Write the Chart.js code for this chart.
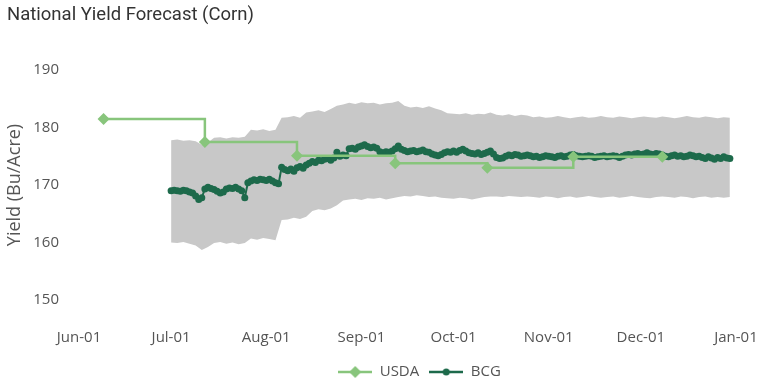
<!DOCTYPE html>
<html>
<head>
<meta charset="utf-8">
<script src="https://cdn.jsdelivr.net/npm/chart.js@4.4.0/dist/chart.umd.min.js"></script>
<style>
html, body { margin: 0; padding: 0; background: #fff; }
#wrap { width: 768px; height: 387px; }
</style>
</head>
<body>
<div id="wrap"><canvas id="yieldChart"></canvas></div>
<script>
const monthTicks = ['2023-06-01', '2023-07-01', '2023-08-01', '2023-09-01', '2023-10-01', '2023-11-01', '2023-12-01', '2024-01-01'];
const monthLabels = ['Jun-01', 'Jul-01', 'Aug-01', 'Sep-01', 'Oct-01', 'Nov-01', 'Dec-01', 'Jan-01'];
const yTicks = [150, 160, 170, 180, 190];

const usdaDates = ['2023-06-09', '2023-07-12', '2023-08-11', '2023-09-12', '2023-10-12', '2023-11-09', '2023-12-08'];
const usdaYield = [181.5, 177.5, 175.1, 173.8, 173.0, 174.9, 174.9];

// BCG daily forecast, one value per day starting Jul 1
const bcgStart = '2023-07-01';
const bcgYield = [
    169.0, 169.1, 169.0, 168.9, 169.1, 169.0, 168.8, 168.6, 168.1, 167.5,
    167.8, 169.3, 169.6, 169.4, 169.2, 168.9, 168.6, 168.8, 169.3, 169.5,
    169.4, 169.6, 169.3, 169.0, 167.8, 170.4, 170.7, 170.9, 170.8, 171.0,
    170.9, 170.8, 171.0, 170.7, 170.4, 170.2, 173.1, 172.7, 172.5, 172.8,
    172.4, 173.0, 173.2, 172.9, 173.5, 173.8, 174.1, 173.9, 174.3, 174.2,
    174.5, 174.6, 174.3, 174.7, 175.7, 175.0, 175.2, 175.1, 176.3, 176.4,
    176.2, 176.6, 176.8, 177.0, 176.7, 176.5, 176.6, 176.4, 175.8, 175.6,
    175.8, 175.7, 175.9, 176.3, 176.8, 176.2, 176.0, 175.8, 175.9, 176.0,
    175.8, 175.9, 176.1, 175.8, 175.7, 175.4, 175.2, 175.1, 175.3, 175.6,
    175.8, 175.7, 175.9, 175.7, 176.0, 176.2, 175.9, 175.6, 175.5, 175.4,
    175.6, 175.3, 175.5, 175.7, 175.9, 175.4, 174.8, 174.6, 174.7, 175.0,
    175.2, 175.1, 175.3, 175.2, 175.0, 175.1, 175.2, 175.1, 174.9, 175.0,
    174.8, 174.9, 175.1, 175.0, 174.9, 174.8, 175.0, 175.1, 174.9, 175.0,
    175.2, 175.3, 175.1, 175.0, 174.9, 175.0, 175.1, 175.0, 174.8, 174.9,
    175.0, 175.1, 174.9, 175.0, 175.1, 175.0, 174.8, 175.0, 175.2, 175.3,
    175.2, 175.4, 175.5, 175.3, 175.4, 175.6, 175.4, 175.3, 175.5, 175.4,
    175.2, 175.0, 174.9, 175.1, 175.2, 175.0, 175.1, 174.9, 175.0, 175.2,
    175.1, 174.9, 175.0, 174.8, 174.6, 174.9, 174.7, 174.5, 174.8, 174.6,
    174.9, 174.7, 174.6
];

// forecast range, one value every 2 days starting Jul 1
const bandStart = '2023-07-01';
const bandStep = 2;
const bandHigh = [
    177.8, 177.9, 177.7, 177.8, 177.6, 177.0, 177.4,
    178.2, 178.3, 178.1, 178.3, 178.2, 178.4,
    179.6, 179.5, 179.7, 179.4, 179.6, 181.7,
    181.8, 182.0, 181.7, 182.6, 182.8, 183.0, 182.7, 183.2, 183.8,
    184.0, 184.3, 184.1, 184.4, 184.2, 184.3, 184.0, 184.2, 184.3, 184.6,
    183.8, 183.5, 183.6, 183.4, 183.7, 183.3, 183.0,
    182.5, 182.4, 182.3, 182.5, 182.2, 182.4, 182.3, 182.6,
    182.2, 182.1, 182.3, 182.0, 182.2, 182.1,
    181.8, 181.9, 181.7, 181.8, 182.0, 181.8, 181.6, 181.8, 181.9, 181.7, 181.8,
    182.0, 181.8, 181.7, 181.9, 181.8, 181.6, 181.8, 181.9, 181.8, 181.7, 181.9,
    181.8, 181.6, 181.8, 182.0, 181.8, 181.7, 181.9, 181.8, 181.6, 181.8, 181.7
];
const bandLow = [
    160.0, 159.9, 160.1, 159.8, 159.5, 158.7, 159.2,
    159.9, 160.1, 159.8, 160.0, 159.7, 159.9,
    160.7, 160.5, 160.8, 160.6, 160.4, 163.9,
    164.0, 164.3, 164.1, 164.5, 165.5, 165.8, 165.6, 165.9, 166.5,
    167.3, 167.5, 167.6, 167.4, 167.7, 167.6, 167.8, 167.5, 167.7, 167.9,
    168.1, 168.0, 168.2, 168.1, 167.9, 168.0, 167.8,
    167.7, 167.6, 167.8, 167.7, 167.5, 167.7, 167.9, 168.0,
    168.0, 167.9, 168.1, 168.0, 167.9, 168.0,
    167.9, 167.8, 168.0, 167.9, 167.7, 167.9, 168.0, 167.8, 167.9, 168.1, 167.9,
    167.8, 167.9, 168.0, 167.8, 167.9, 168.1, 167.9, 167.8, 167.7, 167.9, 168.0,
    167.9, 167.8, 168.0, 167.9, 167.7, 167.9, 168.0, 167.8, 167.9, 167.8, 167.9
];

const usdaGreen = '#88c57c';
const bcgGreen = '#1d6a4b';
const tickFont = { family: 'Open Sans', size: 15 };

function dayNum(dateStr) {
    return (Date.parse(dateStr) - Date.parse(monthTicks[0])) / 86400000;
}

const usdaPoints = usdaDates.map((d, i) => ({ x: dayNum(d), y: usdaYield[i] }));
const bcgPoints = bcgYield.map((v, i) => ({ x: dayNum(bcgStart) + i, y: v }));
const highPoints = bandHigh.map((v, i) => ({ x: dayNum(bandStart) + i * bandStep, y: v }));
const lowPoints = bandLow.map((v, i) => ({ x: dayNum(bandStart) + i * bandStep, y: v }));

function legendIcon(color, marker) {
    const c = document.createElement('canvas');
    c.width = 34;
    c.height = 14;
    const g = c.getContext('2d');
    g.strokeStyle = color;
    g.fillStyle = color;
    g.lineWidth = 2.5;
    g.beginPath();
    g.moveTo(0, 7);
    g.lineTo(34, 7);
    g.stroke();
    g.beginPath();
    if (marker === 'diamond') {
        g.moveTo(17, 1); g.lineTo(23, 7); g.lineTo(17, 13); g.lineTo(11, 7);
    } else {
        g.arc(17, 7, 3.5, 0, Math.PI * 2);
    }
    g.closePath();
    g.fill();
    return c;
}
const legendIcons = { USDA: legendIcon(usdaGreen, 'diamond'), BCG: legendIcon(bcgGreen, 'circle') };

// the legend sits right of centre in the original
const legendNudge = {
    id: 'legendNudge',
    afterLayout(chart) {
        const lg = chart.legend;
        lg.left += 48;
        lg.right += 48;
        lg.top += 2.5;
        lg.bottom += 2.5;
    }
};

new Chart(document.getElementById('yieldChart'), {
    type: 'line',
    plugins: [legendNudge],
    data: {
        datasets: [
            {
                label: 'USDA',
                data: usdaPoints,
                borderColor: usdaGreen,
                backgroundColor: usdaGreen,
                borderWidth: 2.5,
                stepped: true,
                pointStyle: 'rectRot',
                pointRadius: 6,
                pointBorderWidth: 0,
                order: 0
            },
            {
                label: 'BCG',
                data: bcgPoints,
                borderColor: bcgGreen,
                backgroundColor: bcgGreen,
                borderWidth: 2,
                pointRadius: 3.5,
                pointBorderWidth: 0,
                order: 1
            },
            {
                label: 'high',
                data: highPoints,
                borderWidth: 0,
                pointRadius: 0,
                backgroundColor: '#c8c8c8',
                fill: '+1',
                order: 2
            },
            {
                label: 'low',
                data: lowPoints,
                borderWidth: 0,
                pointRadius: 0,
                fill: false,
                order: 2
            }
        ]
    },
    options: {
        responsive: true,
        maintainAspectRatio: false,
        animation: false,
        layout: { padding: { left: 7, right: 32, top: 0, bottom: 0 } },
        plugins: {
            title: {
                display: true,
                text: 'National Yield Forecast (Corn)',
                align: 'start',
                color: '#333',
                font: { family: 'Roboto', size: 18.5, weight: 'normal' },
                padding: { top: 4, bottom: 20.8 }
            },
            legend: {
                position: 'bottom',
                onClick: () => {},
                labels: {
                    color: '#555',
                    font: tickFont,
                    usePointStyle: true,
                    pointStyleWidth: 34,
                    generateLabels: chart => Chart.defaults.plugins.legend.labels.generateLabels(chart)
                        .filter(item => legendIcons[item.text])
                        .map(item => Object.assign(item, { pointStyle: legendIcons[item.text] }))
                }
            },
            tooltip: { enabled: false }
        },
        scales: {
            x: {
                type: 'linear',
                min: 0,
                max: dayNum(monthTicks[monthTicks.length - 1]),
                afterBuildTicks: scale => {
                    scale.ticks = monthTicks.map(d => ({ value: dayNum(d) }));
                },
                afterFit: scale => {
                    scale.height = 29;
                },
                ticks: {
                    autoSkip: false,
                    maxRotation: 0,
                    color: '#555',
                    font: tickFont,
                    padding: 6,
                    callback: (value, index) => monthLabels[index]
                },
                grid: { display: false, drawTicks: false },
                border: { display: false }
            },
            y: {
                min: 146,
                max: 194,
                afterBuildTicks: scale => {
                    scale.ticks = yTicks.map(v => ({ value: v }));
                },
                afterFit: scale => {
                    scale.width = 72;
                },
                ticks: {
                    color: '#555',
                    font: tickFont,
                    padding: 20
                },
                title: {
                    display: true,
                    text: 'Yield (Bu/Acre)',
                    color: '#555',
                    font: { family: 'Open Sans', size: 18 },
                    padding: { top: -3, bottom: 0 }
                },
                grid: { display: false, drawTicks: false },
                border: { display: false }
            }
        }
    }
});
</script>
</body>
</html>
